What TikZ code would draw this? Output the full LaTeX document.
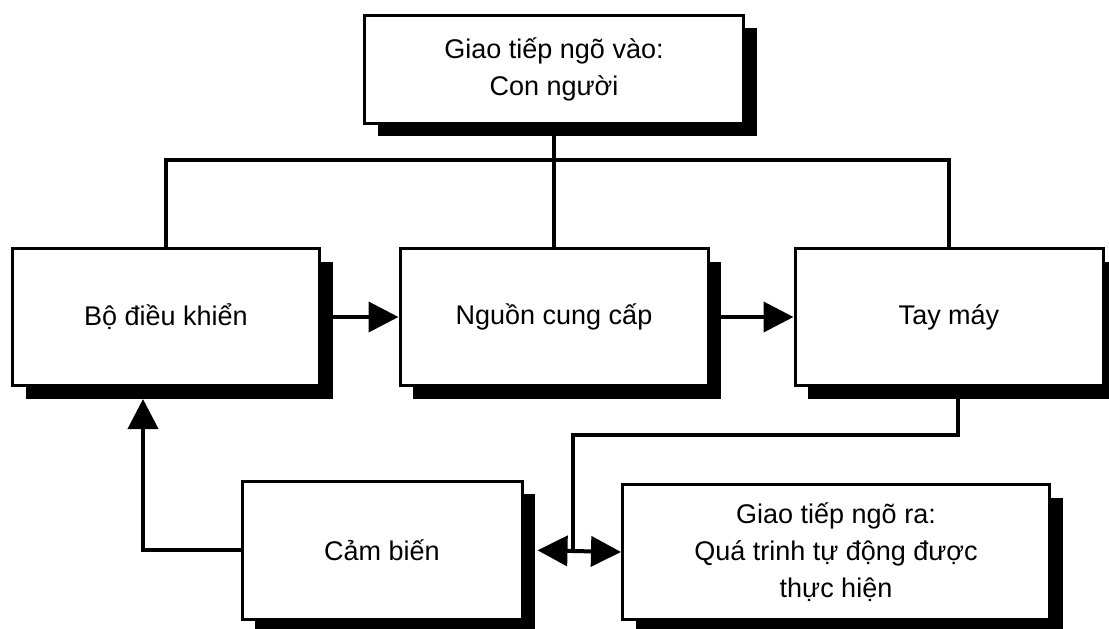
\documentclass[tikz,border=0pt]{standalone}
\usepackage{fontspec}
\setmainfont{Liberation Sans}
\usetikzlibrary{arrows.meta,shadows}

\begin{document}
\begin{tikzpicture}[x=1pt,y=-1pt,
  block/.style={draw,line width=3pt,fill=white,align=center,inner sep=0pt,
    font=\fontsize{27}{37}\selectfont,
    drop shadow={shadow xshift=13pt,shadow yshift=-13pt,fill=black,opacity=1}},
  link/.style={line width=4pt},
  >={Triangle[length=30pt,width=30pt]}]
\useasboundingbox (0,0) rectangle (1109,629);

\node (inbox) at (554,69) [block,minimum width=379pt,minimum height=108pt] {Giao tiếp ngõ vào:\\Con người};
\node (ctrl) at (166,317) [block,minimum width=307pt,minimum height=137pt] {Bộ điều khiển};
\node (power) at (554,317) [block,minimum width=308pt,minimum height=137pt] {Nguồn cung cấp};
\node (arm) at (949,317) [block,minimum width=308pt,minimum height=137pt] {Tay máy};
\node (sensor) at (382,550) [block,minimum width=280pt,minimum height=138pt] {Cảm biến};
\node (outbox) at (836,552) [block,minimum width=427pt,minimum height=135pt] {Giao tiếp ngõ ra:\\Quá trinh tự động được\\thực hiện};

\coordinate (bus) at (554,160);
\draw [link] (inbox.south) -- (power.north);
\draw [link] (ctrl.north) |- (bus) -| (arm.north);

\draw [link,->] (ctrl.east) -- (power.west);
\draw [link,->] (power.east) -- (arm.west);

\coordinate (bend) at (573,435);
\coordinate (junc) at (573,552);
\draw [link] ([xshift=9pt]arm.south) |- (bend) -- (junc);
\draw [link,<->,shorten <=14pt] (sensor.east) -- (outbox.west);
\draw [link,->,shorten >=12pt] (sensor.west) -| ([xshift=-23pt]ctrl.south);
\end{tikzpicture}
\end{document}
